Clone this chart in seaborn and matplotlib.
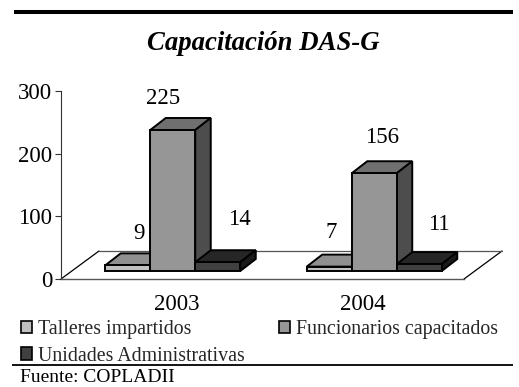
import matplotlib
matplotlib.use("Agg")
import matplotlib.pyplot as plt
from matplotlib.lines import Line2D
from matplotlib.patches import Polygon
from matplotlib.transforms import Affine2D
import pandas as pd
import seaborn as sns

years = ["2003", "2004"]
series = ["Talleres impartidos", "Funcionarios capacitados", "Unidades Administrativas"]
talleres = [9, 7]
funcionarios = [225, 156]
unidades = [14, 11]
y_ticks = [0, 100, 200, 300]

W, H = 519, 387
sns.set_theme(style="white")
plt.rcParams["font.family"] = ["Liberation Serif", "DejaVu Serif"]

front_cols = ["#C0C0C0", "#969696", "#404040"]
top_cols = ["#909090", "#707070", "#262626"]
side_cols = ["#606060", "#4D4D4D", "#1A1A1A"]

df = pd.DataFrame({
    "year": years * 3,
    "serie": [s for s in series for _ in years],
    "valor": talleres + funcionarios + unidades,
})

fig = plt.figure(figsize=(W / 100, H / 100), dpi=100, facecolor="white")
L, R, T, B = 61, 464, 91, 279
ax = fig.add_axes([L / W, 1 - B / H, (R - L) / W, (B - T) / H])
ax.patch.set_alpha(0)

sns.barplot(data=df, x="year", y="valor", hue="serie", order=years, hue_order=series,
            palette=front_cols, width=0.67, gap=0, ax=ax, edgecolor="black", linewidth=1.4,
            saturation=1, legend=True)
ax.set_xlim(-0.5, 1.5)
ax.set_ylim(0, 300)
ax.set_yticks(y_ticks)
ax.set_xlabel("")
ax.set_ylabel("")

# 3-D look: the floor and the depth of each bar (pixels)
floor_dx, floor_dy = 38, 28
shift_x, shift_y = 11, 8
depth_x, depth_y = 15.5, 12
to_px = ax.transData
bar_tf = Affine2D().translate(shift_x, shift_y)

for i, ser in enumerate(series):
    container = ax.containers[i]
    for bar in container:
        bar.set_transform(ax.transData + bar_tf)
        bar.set_zorder(3 + i + 0.2)
        bar.set_clip_on(False)
        x0, x1 = bar.get_x(), bar.get_x() + bar.get_width()
        (ax0, ay0), (ax1, ay1) = to_px.transform([(x0, 0), (x1, bar.get_height())])
        ax0 += shift_x; ax1 += shift_x; ay0 += shift_y; ay1 += shift_y
        top = Polygon([(ax0, ay1), (ax1, ay1), (ax1 + depth_x, ay1 + depth_y), (ax0 + depth_x, ay1 + depth_y)],
                      closed=True, transform=None, fc=top_cols[i], ec="black", lw=1.4, zorder=3 + i, clip_on=False)
        side = Polygon([(ax1, ay0), (ax1 + depth_x, ay0 + depth_y), (ax1 + depth_x, ay1 + depth_y), (ax1, ay1)],
                       closed=True, transform=None, fc=side_cols[i], ec="black", lw=1.4, zorder=3 + i, clip_on=False)
        ax.add_artist(top)
        ax.add_artist(side)

# Value labels, with per-label nudges in pixels from the bar top centre
nudges = {0: [(11, 32), (1.5, 34)], 1: [(-10, 31), (8, 36)], 2: [(22, 43), (20, 40)]}
for i, container in enumerate(ax.containers[:3]):
    for j, bar in enumerate(container):
        dx, dy = nudges[i][j]
        px, py = to_px.transform((bar.get_x() + bar.get_width() / 2, bar.get_height()))
        ax.text(px + shift_x + dx, py + shift_y + dy, f"{int(bar.get_height())}", transform=None,
                ha="center", va="center", fontsize=16.5, color="black", zorder=10, clip_on=False)

# Axes furniture
for s in ("top", "right"):
    ax.spines[s].set_visible(False)
ax.spines["left"].set_linewidth(0.8)
ax.spines["left"].set_color("#333333")
ax.spines["bottom"].set_linewidth(1.0)
ax.spines["bottom"].set_color("#555555")
ax.tick_params(axis="y", left=True, length=4.3, width=0.8, color="#333333", labelsize=16.5, pad=2, labelcolor="black")
ax.tick_params(axis="x", bottom=False, labelsize=16.5, pad=5, labelcolor="black")
ax.get_xticklabels()[0].set_transform(ax.get_xticklabels()[0].get_transform() + Affine2D().translate(15, 0))

(lx, by), (rx, _) = to_px.transform([(-0.5, 0), (1.5, 0)])
for xs, ys, c in [
    ((lx, lx + floor_dx), (by, by + floor_dy), "black"),
    ((rx, rx + floor_dx), (by, by + floor_dy), "black"),
    ((lx + floor_dx, rx + floor_dx), (by + floor_dy, by + floor_dy), "#555555"),
]:
    ax.add_artist(Line2D(xs, ys, transform=None, color=c, lw=0.9, zorder=1, clip_on=False))

# Legend
h, l = ax.get_legend_handles_labels()
order = [0, 2, 1]
ax.get_legend().remove()
leg = fig.legend([h[k] for k in order], [l[k] for k in order], ncol=2, loc="upper left",
                 bbox_to_anchor=(21 / W, 1 - 320 / H), bbox_transform=fig.transFigure, frameon=False,
                 fontsize=14.3, handlelength=0.56, handleheight=0.56, handletextpad=0.3,
                 columnspacing=1.7, labelspacing=0.38, borderpad=0, borderaxespad=0)
for p in leg.get_patches():
    p.set_edgecolor("black")
    p.set_linewidth(1.2)

# Title, rules and source
fig.text(263 / W, 1 - 43 / H, "Capacitación DAS-G", ha="center", va="center",
         fontsize=19.3, fontweight="bold", fontstyle="italic", color="black")
fig.add_artist(Line2D([14 / W, 513 / W], [1 - 12 / H] * 2, color="black", lw=2.9, solid_capstyle="butt"))
fig.add_artist(Line2D([12 / W, 513 / W], [1 - 365 / H] * 2, color="black", lw=1.3, solid_capstyle="butt"))
fig.text(20 / W, 1 - 386.5 / H, "Fuente: COPLADII", ha="left", va="bottom", fontsize=14, color="black")

fig.savefig("out.png", dpi=100, facecolor="white")
